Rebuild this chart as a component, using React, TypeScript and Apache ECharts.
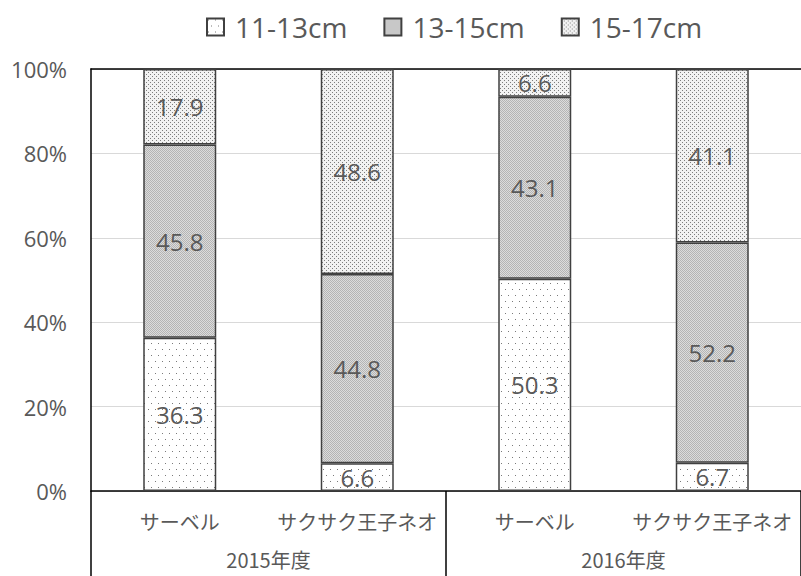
import React, { useEffect, useRef } from "react";
import * as echarts from "echarts";

const products = ["サーベル", "サクサク王子ネオ", "サーベル", "サクサク王子ネオ"];
const years = ["2015年度", "2016年度"];
const sizeClasses = ["11-13cm", "13-15cm", "15-17cm"];
const share11to13 = [36.3, 6.6, 50.3, 6.7];
const share13to15 = [45.8, 44.8, 43.1, 52.2];
const share15to17 = [17.9, 48.6, 6.6, 41.1];
const yTicks = [0, 20, 40, 60, 80, 100];

const FONT = "'Open Sans', 'Noto Sans CJK JP', sans-serif";
const JP_FONT = "'Noto Sans CJK JP', 'Open Sans', sans-serif";
const TEXT = "#595959";

// Small repeating bitmaps used as fills for the three size classes.
function makePattern(kind: "sparse" | "fine" | "dense"): HTMLCanvasElement {
  const c = document.createElement("canvas");
  const ctx = c.getContext("2d")!;
  if (kind === "sparse") {
    c.width = 7;
    c.height = 12;
    ctx.fillStyle = "#ffffff";
    ctx.fillRect(0, 0, 7, 12);
    ctx.fillStyle = "#7a7a7a";
    ctx.fillRect(1, 1, 1, 1);
    ctx.fillRect(4, 7, 1, 1);
  } else if (kind === "fine") {
    c.width = 2;
    c.height = 2;
    ctx.fillStyle = "#dcdcdc";
    ctx.fillRect(0, 0, 2, 2);
    ctx.fillStyle = "#b4b4b4";
    ctx.fillRect(0, 0, 1, 1);
    ctx.fillRect(1, 1, 1, 1);
  } else {
    c.width = 4;
    c.height = 4;
    ctx.fillStyle = "#f2f2f2";
    ctx.fillRect(0, 0, 4, 4);
    ctx.fillStyle = "#7d7d7d";
    ctx.fillRect(0, 0, 1, 1);
    ctx.fillRect(2, 2, 1, 1);
  }
  return c;
}

export default function App() {
  const ref = useRef<HTMLDivElement>(null);

  useEffect(() => {
    if (!ref.current) return;
    const chart = echarts.init(ref.current, undefined, { renderer: "svg" });

    const fills = [makePattern("sparse"), makePattern("fine"), makePattern("dense")];
    const values = [share11to13, share13to15, share15to17];

    const series = sizeClasses.map((name, i) => ({
      name,
      type: "bar",
      stack: "share",
      xAxisIndex: 0,
      barWidth: 73,
      data: values[i],
      itemStyle: {
        color: { image: fills[i], repeat: "repeat" },
        borderColor: "#404040",
        borderWidth: 1.5,
      },
      label: {
        show: true,
        position: "inside",
        color: TEXT,
        fontSize: 24,
        fontFamily: FONT,
        formatter: (p: any) => p.value.toFixed(1),
      },
    }));

    chart.setOption({
      animation: false,
      backgroundColor: "#ffffff",
      textStyle: { fontFamily: FONT },
      legend: {
        top: 8,
        left: 201,
        icon: "rect",
        itemWidth: 17,
        itemHeight: 17,
        itemGap: 36,
        data: sizeClasses,
        textStyle: {
          fontSize: 28,
          color: TEXT,
          fontFamily: FONT,
          padding: [0, 0, 0, 6],
        },
      },
      grid: { left: 91, top: 69, width: 718, bottom: 85 },
      xAxis: [
        {
          type: "category",
          data: products,
          position: "bottom",
          axisLine: { show: true, lineStyle: { color: "#000", width: 1.5 } },
          axisTick: { show: false },
          axisLabel: {
            interval: 0,
            color: TEXT,
            fontSize: 20,
            margin: 20,
            fontFamily: JP_FONT,
          },
        },
        {
          type: "category",
          data: years,
          position: "bottom",
          axisLine: { show: false },
          axisTick: { show: true, length: 86, lineStyle: { color: "#000", width: 1.5 } },
          axisLabel: {
            interval: 0,
            color: TEXT,
            fontSize: 20,
            margin: 58,
            fontFamily: JP_FONT,
          },
        },
        {
          type: "category",
          data: years,
          position: "top",
          axisLine: { show: true, lineStyle: { color: "#000", width: 1.5 } },
          axisTick: { show: false },
          axisLabel: { show: false },
        },
      ],
      yAxis: {
        type: "value",
        min: yTicks[0],
        max: yTicks[yTicks.length - 1],
        interval: 20,
        axisLine: { show: true, lineStyle: { color: "#000", width: 1.5 } },
        axisTick: { show: false },
        axisLabel: {
          color: TEXT,
          fontSize: 22,
          margin: 24,
          fontFamily: FONT,
          formatter: "{value}%",
        },
        splitLine: { lineStyle: { color: "#d9d9d9", width: 1 } },
      },
      series,
    });

    return () => chart.dispose();
  }, []);

  return (
    <div
      ref={ref}
      style={{ position: "absolute", left: 0, top: 0, width: 801, height: 576 }}
    />
  );
}
